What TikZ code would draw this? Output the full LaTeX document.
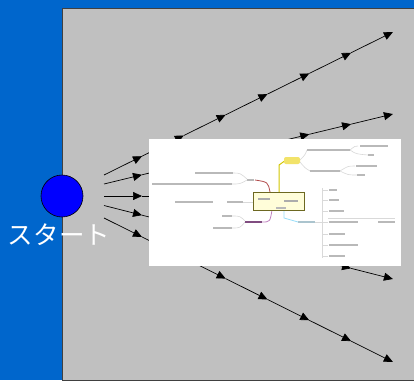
\documentclass[tikz,border=0pt]{standalone}
\usepackage{fontspec}
\newfontfamily\jpfont{Noto Sans CJK JP}
\usetikzlibrary{arrows.meta,calc}
\definecolor{bgblue}{HTML}{0066CC}
\definecolor{panel}{HTML}{C0C0C0}
\definecolor{hlyellow}{HTML}{F2E36A}
\tikzset{
  conn/.style={draw=black, line width=0.7pt, -{Triangle[length=9pt,width=8pt]}},
  blob/.style={draw=gray!55, line width=1.6pt},
  faint/.style={draw=gray!30, line width=0.6pt},
}
\begin{document}
\begin{tikzpicture}[x=1pt,y=-1pt]
\useasboundingbox (0,0) rectangle (414,380);
\fill[bgblue] (0,0) rectangle (414,380);
\draw[fill=panel, draw=black!75, line width=0.8pt] (414,8) -- (62,8) -- (62,380) -- (414,380) -- cycle;
\node[draw=black, line width=0.6pt, fill=blue, circle, minimum size=42pt, inner sep=0pt] (start) at (62,196) {};
\node[text=white, inner sep=0pt] (lbl) at (59,235) {\jpfont\fontsize{25.5}{30}\selectfont スタート};
% connectors
\coordinate (s1) at (104,175); \coordinate (e1) at (393,32);
\coordinate (s2) at (104,184); \coordinate (e2) at (393,114);
\coordinate (s3) at (104,196); \coordinate (e3) at (393,196);
\coordinate (s4) at (104,205.5); \coordinate (e4) at (393,279);
\coordinate (s5) at (104,218); \coordinate (e5) at (393,362);
\foreach \i in {1,...,5}{
  \draw[conn] (s\i) -- ($(s\i)!0.1315!(e\i)$);
  \foreach \k in {0,...,5}{
    \pgfmathsetmacro{\a}{0.1315+0.1447*\k}
    \pgfmathsetmacro{\b}{0.1315+0.1447*(\k+1)}
    \draw[conn] ($(s\i)!\a!(e\i)$) -- ($(s\i)!\b!(e\i)$);
  }
}
% embedded mind map picture
\fill[white] (149,139) rectangle (401,266);
% connectors of the mind map
\draw[draw=yellow!60!olive, line width=1pt] (279,192) -- (279,165) -- (286,160);
\draw[draw=red!40!gray, line width=0.8pt] (255,180) .. controls (268,182) .. (270,192);
\draw[draw=violet!50, line width=0.8pt] (262,222) .. controls (270,222) .. (272,210);
\draw[draw=cyan!40, line width=0.8pt] (284,210) -- (284,218) -- (298,222);
\draw[faint] (233,173) .. controls (240,173) .. (247,179);
\draw[faint] (232,184) .. controls (240,184) .. (247,180);
\draw[faint] (243,202) -- (253,202);
\draw[faint] (232,216) .. controls (240,216) .. (245,221);
\draw[faint] (232,228) .. controls (240,228) .. (245,222);
\draw[faint] (300,160) .. controls (305,155) .. (307,150);
\draw[faint] (300,162) .. controls (305,168) .. (310,171);
\draw[faint] (350,150) .. controls (355,146) .. (358,146);
\draw[faint] (350,150) .. controls (356,154) .. (368,155);
\draw[faint] (340,171) .. controls (348,166) .. (355,166);
\draw[faint] (340,171) .. controls (348,175) .. (357,175);
\draw[faint] (322,188) -- (322,258);
\draw[faint] (315,222) -- (322,222);
\foreach \y in {190,200,211,222,234,245,256}{ \draw[faint] (322,\y) -- (328,\y); }
\draw[faint] (328,218) -- (395,218);
% central box and highlighted node
\node[draw=olive!70!black, fill=yellow!15, line width=0.8pt, minimum width=51pt, minimum height=18pt, inner sep=0pt] (centre) at (278.5,201) {};
\node[fill=hlyellow, rounded corners=2pt, minimum width=16pt, minimum height=7pt, inner sep=0pt] (hl) at (292,160.5) {};
\draw[blob, gray!65] (258,199) -- (270,199);
\draw[blob, gray!65] (284,201) -- (298,201);
\draw[blob, gray!55] (276,208) -- (286,208);
% text strokes (illegible labels)
\draw[blob] (195,173) -- (233,173);
\draw[blob] (152,184) -- (232,184);
\draw[blob] (175,202) -- (213,202);
\draw[blob] (227,202) -- (243,202);
\draw[blob] (247,180) -- (254,180);
\draw[blob] (222,216) -- (232,216);
\draw[blob] (213,228) -- (232,228);
\draw[blob, violet!40!gray] (245,222) -- (262,222);
\draw[blob] (307,150) -- (350,150);
\draw[blob] (360,146) -- (388,146);
\draw[blob] (368,155) -- (374,155);
\draw[blob] (310,171) -- (340,171);
\draw[blob] (356,166) -- (377,166);
\draw[blob] (357,175) -- (365,175);
\draw[blob, cyan!30!gray!60] (298,222) -- (315,222);
\draw[blob] (329,190) -- (337,190);
\draw[blob] (329,200) -- (339,200);
\draw[blob] (329,211) -- (344,211);
\draw[blob] (329,222) -- (358,222);
\draw[blob] (378,222) -- (395,222);
\draw[blob] (329,234) -- (345,234);
\draw[blob] (329,245) -- (358,245);
\draw[blob] (329,256) -- (345,256);
\end{tikzpicture}
\end{document}
